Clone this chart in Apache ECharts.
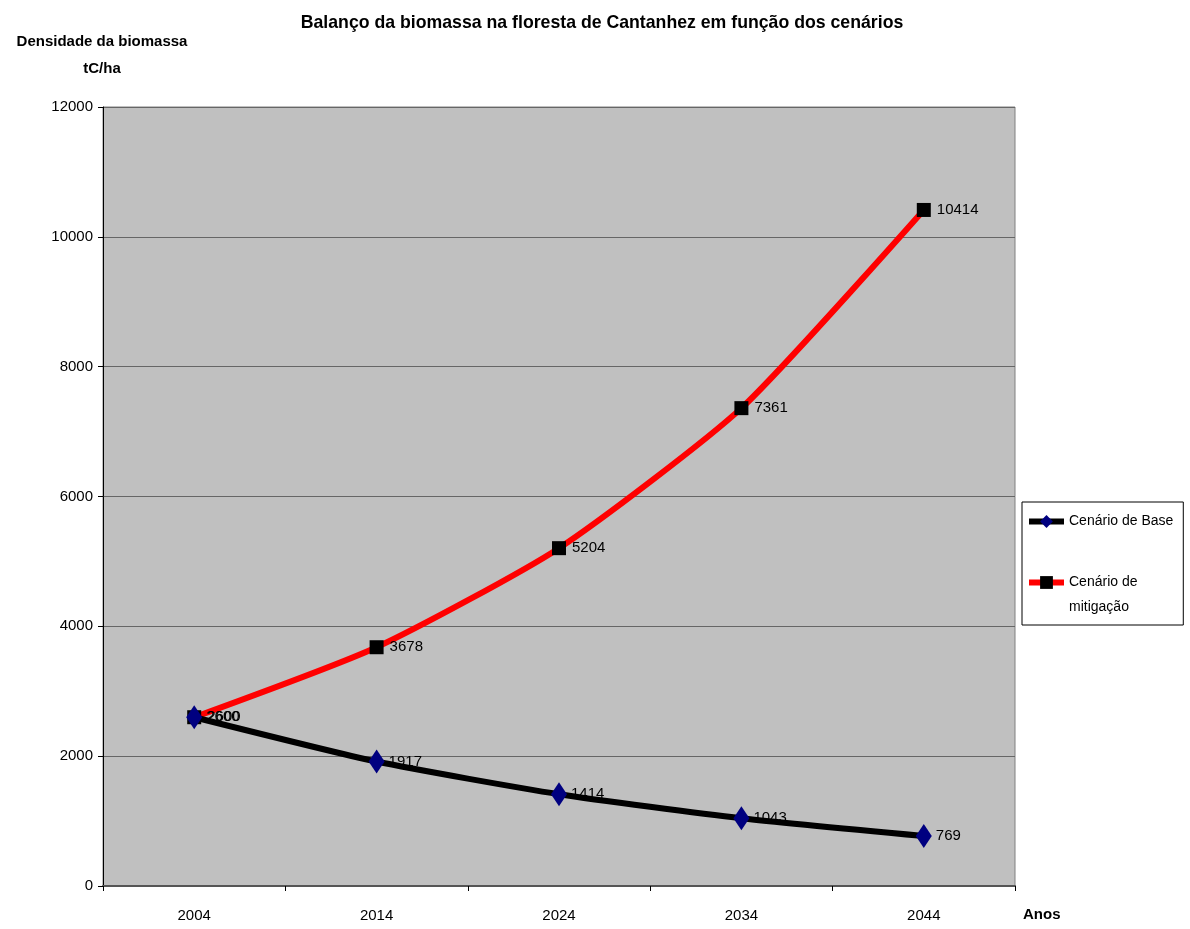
<!DOCTYPE html>
<html>
<head>
<meta charset="utf-8">
<script src="https://cdn.jsdelivr.net/npm/echarts@6/dist/echarts.min.js"></script>
<style>
  html, body { margin: 0; padding: 0; background: #fff; }
  #chart { width: 1190px; height: 929px; }
</style>
</head>
<body>
<div id="chart"></div>
<script>
// anos e valores
const anos = ['2004', '2014', '2024', '2034', '2044']
const cenarioBase = [2600, 1917, 1414, 1043, 769]
const cenarioMitigacao = [2600, 3678, 5204, 7361, 10414]
const nomes = ['Cenário de Base', 'Cenário de mitigação']

const fonte = '"Liberation Sans", Arial, sans-serif'

let chartDom = document.getElementById('chart');
let chart = echarts.init(chartDom);
let option;

option = {
  backgroundColor: '#fff',
  textStyle: { fontFamily: fonte, color: '#000' },
  title: [
    {
      text: 'Balanço da biomassa na floresta de Cantanhez em função dos cenários',
      left: 597, top: 9, textAlign: 'center',
      textStyle: { fontSize: 17.7, fontWeight: 'bold', color: '#000', fontFamily: fonte }
    },
    {
      text: 'Densidade da biomassa\ntC/ha',
      left: 97, top: 23, textAlign: 'center',
      textStyle: { fontSize: 15, fontWeight: 'bold', color: '#000', fontFamily: fonte, lineHeight: 27, align: 'right' }
    },
    {
      text: 'Anos',
      left: 1018, top: 902,
      textStyle: { fontSize: 15, fontWeight: 'bold', color: '#000', fontFamily: fonte }
    }
  ],
  legend: {
    orient: 'vertical',
    left: 1022,
    top: 502,
    backgroundColor: '#fff',
    borderColor: '#000',
    borderWidth: 1,
    borderRadius: 0,
    padding: [7, 10, 5, 4],
    itemGap: 11,
    itemWidth: 35,
    itemHeight: 16,
    lineStyle: { width: 6 },
    data: nomes,
    // o icone fica alinhado com a primeira linha do texto
    formatter: function (name) {
      return name === 'Cenário de mitigação' ? ' \nCenário de\nmitigação' : name
    },
    textStyle: { fontSize: 14, color: '#000', fontFamily: fonte, lineHeight: 25 }
  },
  grid: {
    left: 103, right: 175, top: 107, bottom: 43,
    show: true,
    backgroundColor: '#c0c0c0',
    borderColor: '#808080',
    borderWidth: 1
  },
  xAxis: {
    type: 'category',
    data: anos,
    boundaryGap: true,
    axisLine: { lineStyle: { color: '#555', width: 2 } },
    axisTick: { show: true, length: 5, lineStyle: { color: '#000' } },
    axisLabel: { fontSize: 15, color: '#000', margin: 22, fontFamily: fonte }
  },
  yAxis: {
    type: 'value',
    min: 0, max: 12000, interval: 2000,
    axisLine: { show: true, lineStyle: { color: '#000' } },
    axisTick: { show: true, length: 5, lineStyle: { color: '#000' } },
    axisLabel: {
      fontSize: 15, color: '#000', margin: 10, fontFamily: fonte,
      formatter: function (v) { return String(v) }
    },
    splitLine: { show: true, lineStyle: { color: '#666', width: 1 } }
  },
  series: [
    {
      name: nomes[0],
      type: 'line',
      data: cenarioBase,
      smooth: 0.2,
      symbol: 'diamond',
      symbolSize: [16, 24],
      showAllSymbol: true,
      lineStyle: { color: '#000', width: 6 },
      itemStyle: { color: '#000080', borderWidth: 0 },
      label: { show: true, position: 'right', distance: 4, fontSize: 15, color: '#000', fontFamily: fonte },
      z: 3
    },
    {
      name: nomes[1],
      type: 'line',
      data: cenarioMitigacao,
      smooth: 0.2,
      symbol: 'rect',
      symbolSize: 14,
      showAllSymbol: true,
      lineStyle: { color: '#ff0000', width: 6 },
      itemStyle: { color: '#000', borderWidth: 0 },
      label: { show: true, position: 'right', distance: 6, fontSize: 15, color: '#000', fontFamily: fonte },
      z: 2
    }
  ]
};
option && chart.setOption(option);
</script>
</body>
</html>
